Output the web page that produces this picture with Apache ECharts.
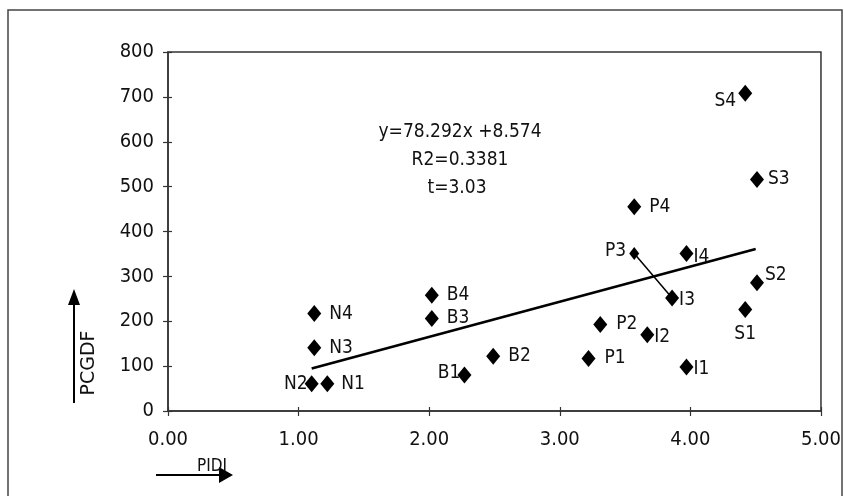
<!DOCTYPE html>
<html>
<head>
<meta charset="utf-8">
<script src="https://cdn.jsdelivr.net/npm/echarts@6/dist/echarts.min.js"></script>
<style>
html,body{margin:0;padding:0;background:#fff;}
#c{width:844px;height:496px;}
</style>
</head>
<body>
<div id="c"></div>
<script>
// ---- data ----
const names = ['N1','N2','N3','N4','B1','B2','B3','B4','P1','P2','P3','P4','I1','I2','I3','I4','S1','S2','S3','S4'];
const pidi  = [1.22,1.10,1.12,1.12,2.27,2.49,2.02,2.02,3.22,3.31,3.57,3.57,3.97,3.67,3.86,3.97,4.42,4.51,4.51,4.42];
const pcgdf = [61,61,141,217,80,122,206,258,117,193,351,455,98,170,252,351,226,286,516,708];
const xTicks = [0,1,2,3,4,5];
const yTicks = [0,100,200,300,400,500,600,700,800];
const slope = 78.292, intercept = 8.574;
const trendX = [1.1, 4.5];
const connector = ['P3','I3'];
const equationLines = ['y=78.292x +8.574', 'R2=0.3381', 't=3.03'];
const xName = 'PIDI', yName = 'PCGDF';

// ---- label placement (style) ----
const place = {
  N1:{position:'right',distance:7}, N2:{position:'left',distance:0,offset:[3,0]},
  N3:{position:'right',distance:8}, N4:{position:'right',distance:8},
  B1:{position:'left',distance:0,offset:[3,-2]}, B2:{position:'right',distance:8},
  B3:{position:'right',distance:8}, B4:{position:'right',distance:8},
  P1:{position:'right',distance:9}, P2:{position:'right',distance:9},
  P3:{position:'left',distance:3,offset:[0,-2]}, P4:{position:'right',distance:8},
  I1:{position:'right',distance:0,offset:[0,2]}, I2:{position:'right',distance:0,offset:[0,2]},
  I3:{position:'right',distance:0,offset:[0,2]}, I4:{position:'right',distance:0,offset:[0,4]},
  S1:{position:'bottom',distance:6}, S2:{position:'right',distance:1,offset:[0,-8]},
  S3:{position:'right',distance:4}, S4:{position:'left',distance:2,offset:[0,8]}
};

const FONT = '"DejaVu Sans Condensed", "DejaVu Sans", sans-serif';
const TXT = '#111';

const pts = names.map((n,i)=>{
  const p = place[n] || {position:'right'};
  return {
    name:n, value:[pidi[i], pcgdf[i]],
    symbolSize: n==='P3' ? [10,13] : [14,17],
    label:{show:true, formatter:n, position:p.position, distance:p.distance, offset:p.offset||[0,0]}
  };
});
const conn = connector.map(n=>{const i=names.indexOf(n); return [pidi[i], pcgdf[i]];});
const trend = trendX.map(x=>[x, slope*x+intercept]);

const chart = echarts.init(document.getElementById('c'), null, {renderer:'canvas'});
const axisCol = '#333';
const option = {
  backgroundColor:'#fff',
  animation:false,
  grid:{left:168, right:22, top:52, bottom:85, show:true, borderColor:axisCol, borderWidth:1.5, backgroundColor:'transparent'},
  xAxis:[{
    type:'value', min:xTicks[0], max:xTicks[xTicks.length-1], interval:1,
    axisLine:{show:true, lineStyle:{color:axisCol, width:1.5}},
    axisTick:{show:true, length:5, lineStyle:{color:axisCol, width:1.2}},
    splitLine:{show:false},
    axisLabel:{margin:19, fontFamily:FONT, fontSize:20, color:TXT, formatter:v=>v.toFixed(2)}
  },{
    type:'value', min:xTicks[0], max:xTicks[xTicks.length-1], interval:1, position:'bottom',
    axisLine:{show:false}, axisTick:{show:true, inside:true, length:4, lineStyle:{color:axisCol, width:1.2}},
    axisLabel:{show:false}, splitLine:{show:false}
  }],
  yAxis:[{
    type:'value', min:yTicks[0], max:yTicks[yTicks.length-1], interval:100,
    axisLine:{show:true, lineStyle:{color:axisCol, width:1.5}},
    axisTick:{show:true, length:5, lineStyle:{color:axisCol, width:1.2}},
    splitLine:{show:false},
    axisLabel:{margin:14, fontFamily:FONT, fontSize:20, color:TXT}
  },{
    type:'value', min:yTicks[0], max:yTicks[yTicks.length-1], interval:100, position:'left',
    axisLine:{show:false}, axisTick:{show:true, inside:true, length:4, lineStyle:{color:axisCol, width:1.2}},
    axisLabel:{show:false}, splitLine:{show:false}
  }],
  series:[
    {type:'line', data:trend, symbol:'none', lineStyle:{color:'#000', width:2.6}, z:3, silent:true},
    {type:'line', data:conn, symbol:'none', lineStyle:{color:'#000', width:1.5}, z:3, silent:true},
    {type:'scatter', symbol:'diamond', data:pts, itemStyle:{color:'#000', opacity:1}, z:4,
     label:{fontFamily:FONT, fontSize:19, color:TXT}}
  ],
  graphic:[
    // outer frame
    {type:'polyline', shape:{points:[[8,500],[8,10],[842,10],[842,500]]}, style:{stroke:'#444', lineWidth:1.5, fill:null}},
    // equation text
    {type:'text', x:460, y:132, style:{text:equationLines[0], font:'19px "DejaVu Sans Condensed", "DejaVu Sans"', fill:TXT, align:'center', verticalAlign:'middle'}},
    {type:'text', x:460, y:160, style:{text:equationLines[1], font:'19px "DejaVu Sans Condensed", "DejaVu Sans"', fill:TXT, align:'center', verticalAlign:'middle'}},
    {type:'text', x:457, y:188, style:{text:equationLines[2], font:'19px "DejaVu Sans Condensed", "DejaVu Sans"', fill:TXT, align:'center', verticalAlign:'middle'}},
    // y name with arrow
    {type:'line', shape:{x1:74, y1:403, x2:74, y2:300}, style:{stroke:'#000', lineWidth:2}},
    {type:'polygon', shape:{points:[[74,289],[68,305],[80,305]]}, style:{fill:'#000'}},
    {type:'text', x:89, y:363, rotation:Math.PI/2, style:{text:yName, font:'19px "DejaVu Sans"', fill:TXT, align:'center', verticalAlign:'middle'}},
    // x name with arrow
    {type:'line', shape:{x1:156, y1:475, x2:222, y2:475}, style:{stroke:'#000', lineWidth:2}},
    {type:'polygon', shape:{points:[[233,475],[219,467],[219,483]]}, style:{fill:'#000'}},
    {type:'text', x:212, y:467, style:{text:xName, font:'17px "DejaVu Sans Condensed", "DejaVu Sans"', fill:TXT, align:'center', verticalAlign:'middle'}}
  ]
};
chart.setOption(option);
</script>
</body>
</html>
